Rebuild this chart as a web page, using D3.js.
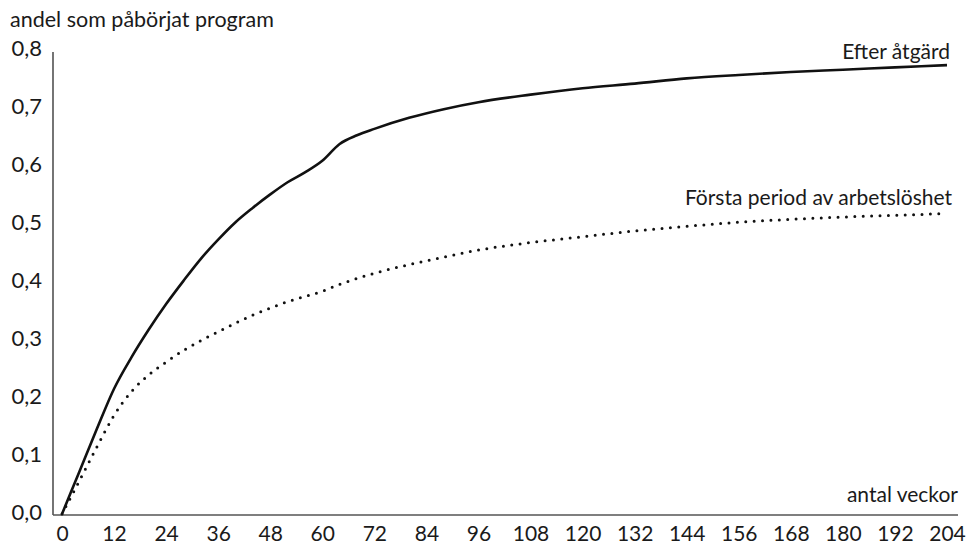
<!DOCTYPE html>
<html>
<head>
<meta charset="utf-8">
<script src="https://cdn.jsdelivr.net/npm/d3@7"></script>
<style>
  body { margin: 0; background: #fff; }
  svg { font-family: Lato, 'Open Sans', sans-serif; }
  .tick text { fill: #1a1a1a; }
</style>
</head>
<body>
<svg width="971" height="546"></svg>
<script>
// weeks since start
const weeks = [0, 4, 8, 12, 16, 20, 24, 28, 32, 36, 40, 44, 48, 52, 56, 60, 64, 68, 72, 80, 88, 96, 108, 120, 132, 144, 156, 168, 180, 192, 204];

// Efter åtgärd
const efterAtgard = [0, 0.073, 0.146, 0.216, 0.270, 0.318, 0.362, 0.402, 0.440, 0.473, 0.503, 0.528, 0.551, 0.572, 0.589, 0.609, 0.638, 0.653, 0.664, 0.683, 0.698, 0.710, 0.723, 0.734, 0.742, 0.751, 0.757, 0.762, 0.766, 0.770, 0.774];

// Första period av arbetslöshet
const forstaPeriod = [0, 0.057, 0.115, 0.170, 0.211, 0.240, 0.262, 0.282, 0.299, 0.314, 0.329, 0.343, 0.355, 0.366, 0.375, 0.384, 0.396, 0.406, 0.415, 0.430, 0.443, 0.455, 0.468, 0.478, 0.488, 0.496, 0.503, 0.508, 0.512, 0.515, 0.518];

const xTicks = d3.range(0, 205, 12);
const yTicks = [0, 0.1, 0.2, 0.3, 0.4, 0.5, 0.6, 0.7, 0.8];

const svg = d3.select('svg');

const x = d3.scaleLinear().domain([0, 204]).range([62, 947]);
const y = d3.scaleLinear().domain([0, 0.8]).range([514, 50]);

const fmt = (d) => d3.format('.1f')(d).replace('.', ',');

// axis lines
svg.append('line')
  .attr('x1', 53).attr('x2', 53)
  .attr('y1', 52).attr('y2', y(0) + 1)
  .attr('stroke', '#3a3a3a').attr('stroke-width', 1.4);

svg.append('line')
  .attr('x1', 53).attr('x2', 958)
  .attr('y1', y(0) + 1).attr('y2', y(0) + 1)
  .attr('stroke', '#555').attr('stroke-width', 1.4);

// y labels
const yAxis = svg.append('g')
  .attr('transform', 'translate(42, -2)')
  .call(d3.axisLeft(y).tickValues(yTicks).tickFormat(fmt).tickSize(0).tickPadding(0));
yAxis.select('.domain').remove();
yAxis.selectAll('text')
  .attr('font-size', 22)
  .attr('font-family', 'Lato, sans-serif');

// x labels
const xAxis = svg.append('g')
  .attr('transform', 'translate(0, 526)')
  .call(d3.axisBottom(x).tickValues(xTicks).tickSize(0).tickPadding(0));
xAxis.select('.domain').remove();
xAxis.selectAll('text')
  .attr('font-size', 21)
  .attr('font-family', 'Lato, sans-serif');

const line = d3.line()
  .x((d, i) => x(weeks[i]))
  .y((d) => y(d))
  .curve(d3.curveMonotoneX);

svg.append('path')
  .datum(efterAtgard)
  .attr('d', line)
  .attr('fill', 'none')
  .attr('stroke', '#111')
  .attr('stroke-width', 2.6);

svg.append('path')
  .datum(forstaPeriod)
  .attr('d', line)
  .attr('fill', 'none')
  .attr('stroke', '#111')
  .attr('stroke-width', 3)
  .attr('stroke-linecap', 'round')
  .attr('stroke-dasharray', '0,8.4');

// texts
svg.append('text')
  .attr('x', 10).attr('y', 27)
  .attr('font-size', 21.5)
  .attr('fill', '#1a1a1a')
  .text('andel som påbörjat program');

svg.append('text')
  .attr('x', 950).attr('y', 59)
  .attr('text-anchor', 'end')
  .attr('font-size', 21)
  .attr('fill', '#1a1a1a')
  .text('Efter åtgärd');

svg.append('text')
  .attr('x', 952).attr('y', 205)
  .attr('text-anchor', 'end')
  .attr('font-size', 21)
  .attr('fill', '#1a1a1a')
  .text('Första period av arbetslöshet');

svg.append('text')
  .attr('x', 958).attr('y', 502)
  .attr('text-anchor', 'end')
  .attr('font-size', 21)
  .attr('fill', '#1a1a1a')
  .text('antal veckor');
</script>
</body>
</html>
